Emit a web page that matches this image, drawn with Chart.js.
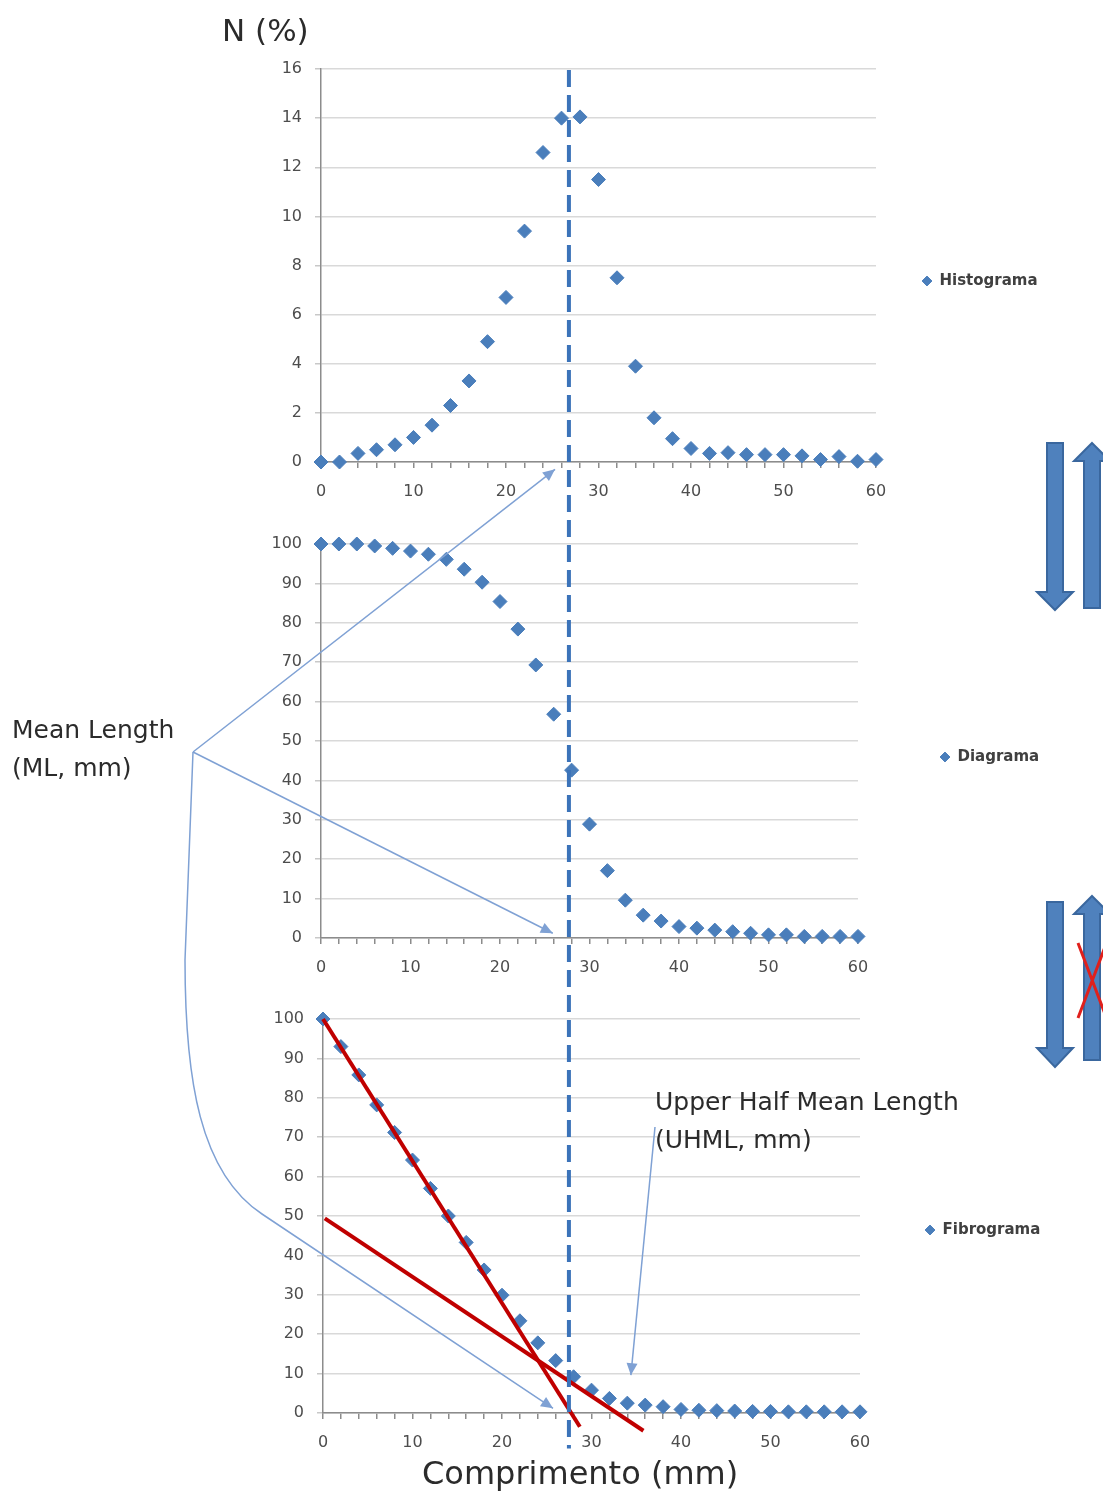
<!DOCTYPE html>
<html lang="pt">
<head>
<meta charset="UTF-8">
<title>Histograma, Diagrama e Fibrograma</title>
<script src="https://cdn.jsdelivr.net/npm/chart.js"></script>
<style>
  body {
    margin: 0;
    background: #fff;
    width: 1103px;
    height: 1491px;
    position: relative;
    overflow: hidden;
    font-family: 'DejaVu Sans', sans-serif;
  }
  canvas.chart { position: absolute; z-index: 1; }
  #overlay { position: absolute; left: 0; top: 0; z-index: 2; pointer-events: none; }
  .label {
    position: absolute;
    z-index: 3;
    white-space: nowrap;
    color: #2b2b2b;
  }
</style>
</head>
<body>

<div class="label" style="left:222px; top:10px; font-size:31px; line-height:40px;">N (%)</div>
<div class="label" style="left:422px; top:1453px; font-size:32px; line-height:40px;">Comprimento (mm)</div>
<div class="label" style="left:12px; top:711px; font-size:25px; line-height:38px;">Mean Length<br>(ML, mm)</div>
<div class="label" style="left:655px; top:1083px; font-size:25px; line-height:38px;">Upper Half Mean Length<br>(UHML, mm)</div>

<canvas id="overlay" width="1103" height="1491"></canvas>

<script>
  // fibre length classes (mm)
  const lengths = [0, 2, 4, 6, 8, 10, 12, 14, 16, 18, 20, 22, 24, 26, 28, 30,
                   32, 34, 36, 38, 40, 42, 44, 46, 48, 50, 52, 54, 56, 58, 60];

  // N (%) for each class
  const histograma = [0, 0, 0.35, 0.5, 0.7, 1.0, 1.5, 2.3, 3.3, 4.9, 6.7, 9.4, 12.6, 14.0, 14.05, 11.5,
                      7.5, 3.9, 1.8, 0.95, 0.55, 0.35, 0.38, 0.3, 0.3, 0.3, 0.25, 0.1, 0.22, 0.03, 0.1];
  const diagrama = [100, 100, 100, 99.5, 98.9, 98.2, 97.4, 96.1, 93.6, 90.3, 85.4, 78.4, 69.3, 56.8, 42.6, 28.9,
                    17.1, 9.6, 5.8, 4.3, 2.9, 2.5, 2.0, 1.6, 1.2, 0.8, 0.8, 0.4, 0.4, 0.4, 0.4];
  const fibrograma = [100, 93, 85.8, 78.2, 71.2, 64.2, 57, 50, 43.3, 36.3, 29.9, 23.4, 17.8, 13.3, 9.2, 5.8,
                      3.7, 2.5, 2.0, 1.6, 0.9, 0.7, 0.6, 0.5, 0.4, 0.4, 0.3, 0.3, 0.3, 0.3, 0.3];

  // red tangent lines on the fibrogram
  const tangentX = [0, 28.7];
  const tangentY = [100, -3.5];
  const halfX = [0.2, 35.8];
  const halfY = [49.4, -4.5];

  const xLabels = [0, 10, 20, 30, 40, 50, 60];

  // annotation anchors, in data units of the panel they point at
  const meanLength = 27.7;          // dashed line, diagram scale
  const mlTipHist = [25.3, -0.3];
  const mlTipDiag = [25.9, 1.2];
  const mlTipFib = [25.7, 1.2];
  const uhmlTip = [34.4, 9.6];

  const blue = '#4a7ebb';
  const tickFont = { family: 'DejaVu Sans', size: 16 };
  const legendFont = { family: 'DejaVu Sans', size: 15, weight: 'bold' };
  const BOX_W = 10, BOX_H = 7;
  const PAD_TOP = 24, Y_AXIS_W = 50, X_AXIS_H = 42;

  // plot box on the page (left, right, top, bottom) and legend centre line
  const panels = [
    { name: 'Histograma', values: histograma, yMax: 16, yStep: 2,
      left: 321, right: 876, top: 69, bottom: 462, legendY: 281, legendPad: 46 },
    { name: 'Diagrama', values: diagrama, yMax: 100, yStep: 10,
      left: 321, right: 858, top: 544, bottom: 938, legendY: 757, legendPad: 82 },
    { name: 'Fibrograma', values: fibrograma, yMax: 100, yStep: 10,
      left: 323, right: 860, top: 1019, bottom: 1413, legendY: 1230, legendPad: 65, tangents: true }
  ];

  function legendWidth(text, pad) {
    const m = document.createElement('canvas').getContext('2d');
    m.font = `${legendFont.weight} ${legendFont.size}px ${legendFont.family}`;
    return pad + BOX_W + legendFont.size / 2 + m.measureText(text).width + 10;
  }

  function makePanel(p) {
    const lw = legendWidth(p.name, p.legendPad);
    const inner = p.right - p.left + Y_AXIS_W + lw;
    const w = Math.ceil(inner);
    p.canvasLeft = p.left - Y_AXIS_W;
    p.canvasTop = p.top - PAD_TOP;
    // empty legend title used as a spacer: legend item sits at legendY
    const spacer = 2 * (p.legendY - (p.top + p.bottom) / 2);

    const canvas = document.createElement('canvas');
    canvas.className = 'chart';
    canvas.width = w;
    canvas.height = PAD_TOP + (p.bottom - p.top) + X_AXIS_H;
    canvas.style.left = p.canvasLeft + 'px';
    canvas.style.top = p.canvasTop + 'px';
    document.body.appendChild(canvas);

    const datasets = [{
      label: p.name,
      data: lengths.map((x, i) => ({ x: x, y: p.values[i] })),
      pointStyle: 'rectRot',
      pointRadius: 7,
      backgroundColor: blue,
      borderColor: blue,
      pointBorderWidth: 1,
      showLine: false,
      clip: false,
      order: 1
    }];

    if (p.tangents) {
      [[tangentX, tangentY], [halfX, halfY]].forEach(([xs, ys]) => {
        datasets.push({
          label: 'tangent',
          data: xs.map((x, i) => ({ x: x, y: ys[i] })),
          showLine: true,
          pointRadius: 0,
          borderColor: '#c00000',
          borderWidth: 4,
          clip: false,
          order: 0
        });
      });
    }

    p.chart = new Chart(canvas, {
      type: 'scatter',
      data: { datasets: datasets },
      options: {
        responsive: false,
        animation: false,
        events: [],
        layout: { padding: { top: PAD_TOP, right: w - inner, bottom: 0, left: 0 } },
        plugins: {
          tooltip: { enabled: false },
          legend: {
            position: 'right',
            fullSize: false,
            title: { display: true, text: '', font: { size: 10 }, padding: { top: spacer - 12, bottom: 0 } },
            labels: {
              usePointStyle: true,
              pointStyle: 'rectRot',
              boxWidth: BOX_W,
              boxHeight: BOX_H,
              padding: p.legendPad,
              color: '#404040',
              font: legendFont,
              filter: item => item.datasetIndex === 0
            }
          }
        },
        scales: {
          x: {
            type: 'linear',
            min: 0,
            max: 60,
            ticks: {
              stepSize: 2,
              autoSkip: false,
              maxRotation: 0,
              padding: 14,
              color: '#4d4d4d',
              font: tickFont,
              callback: v => xLabels.includes(v) ? v : ''
            },
            grid: { drawOnChartArea: false, drawTicks: true, tickLength: 6, color: '#8c8c8c', lineWidth: 1.5 },
            border: { color: '#8c8c8c', width: 1.5 },
            afterFit: s => { s.height = X_AXIS_H; }
          },
          y: {
            min: 0,
            max: p.yMax,
            ticks: { stepSize: p.yStep, padding: 13, color: '#4d4d4d', font: tickFont },
            grid: { color: '#d9d9d9', lineWidth: 1.5, tickLength: 6, tickColor: '#c8c8c8' },
            border: { color: '#8c8c8c', width: 1.5 },
            afterFit: s => { s.width = Y_AXIS_W; }
          }
        }
      }
    });
  }

  panels.forEach(makePanel);

  // ---------- overlay: dashed ML line, callouts, block arrows ----------
  const ov = document.getElementById('overlay').getContext('2d');

  function toPage(p, x, y) {
    return [p.canvasLeft + p.chart.scales.x.getPixelForValue(x),
            p.canvasTop + p.chart.scales.y.getPixelForValue(y)];
  }

  function arrowHead(fx, fy, tx, ty) {
    const a = Math.atan2(ty - fy, tx - fx), L = 12, W = 5.5;
    ov.beginPath();
    ov.moveTo(tx, ty);
    ov.lineTo(tx - L * Math.cos(a) + W * Math.sin(a), ty - L * Math.sin(a) - W * Math.cos(a));
    ov.lineTo(tx - L * Math.cos(a) - W * Math.sin(a), ty - L * Math.sin(a) + W * Math.cos(a));
    ov.closePath();
    ov.fill();
  }

  const [p1, p2, p3] = panels;

  // mean length dashed line running through all three panels
  const mlX = toPage(p2, meanLength, 0)[0];
  ov.save();
  ov.strokeStyle = '#3b73b9';
  ov.lineWidth = 4;
  ov.setLineDash([17, 8]);
  ov.beginPath();
  ov.moveTo(mlX, toPage(p1, 0, p1.yMax)[1] + 1);
  ov.lineTo(mlX, toPage(p3, 0, -9)[1]);
  ov.stroke();
  ov.restore();

  // thin callout lines
  ov.strokeStyle = '#7fa1d4';
  ov.fillStyle = '#7fa1d4';
  ov.lineWidth = 1.5;
  const vertex = [193, 752];

  const t1 = toPage(p1, mlTipHist[0], mlTipHist[1]);
  ov.beginPath(); ov.moveTo(vertex[0], vertex[1]); ov.lineTo(t1[0], t1[1]); ov.stroke();
  arrowHead(vertex[0], vertex[1], t1[0], t1[1]);

  const t2 = toPage(p2, mlTipDiag[0], mlTipDiag[1]);
  ov.beginPath(); ov.moveTo(vertex[0], vertex[1]); ov.lineTo(t2[0], t2[1]); ov.stroke();
  arrowHead(vertex[0], vertex[1], t2[0], t2[1]);

  const t3 = toPage(p3, mlTipFib[0], mlTipFib[1]);
  ov.beginPath();
  ov.moveTo(vertex[0], vertex[1]);
  ov.lineTo(185, 960);
  ov.bezierCurveTo(185, 1080, 200, 1173, 262, 1214);
  ov.lineTo(t3[0], t3[1]);
  ov.stroke();
  arrowHead(262, 1214, t3[0], t3[1]);

  const t4 = toPage(p3, uhmlTip[0], uhmlTip[1]);
  const uStart = [655, 1127];
  ov.beginPath(); ov.moveTo(uStart[0], uStart[1]); ov.lineTo(t4[0], t4[1]); ov.stroke();
  arrowHead(uStart[0], uStart[1], t4[0], t4[1]);

  // block arrows on the right edge
  function blockArrow(cx, tipY, endY, shaftW, headW, headL) {
    const dir = Math.sign(endY - tipY);
    const base = tipY + dir * headL;
    ov.beginPath();
    ov.moveTo(cx, tipY);
    ov.lineTo(cx + headW / 2, base);
    ov.lineTo(cx + shaftW / 2, base);
    ov.lineTo(cx + shaftW / 2, endY);
    ov.lineTo(cx - shaftW / 2, endY);
    ov.lineTo(cx - shaftW / 2, base);
    ov.lineTo(cx - headW / 2, base);
    ov.closePath();
    ov.fillStyle = '#4f81bd';
    ov.fill();
    ov.strokeStyle = '#3a679e';
    ov.lineWidth = 2;
    ov.stroke();
  }

  blockArrow(1055, 610, 443, 16, 36, 18);
  blockArrow(1092, 443, 608, 16, 36, 18);
  blockArrow(1055, 1067, 902, 16, 36, 19);
  blockArrow(1092, 896, 1060, 16, 36, 18);

  ov.strokeStyle = '#e0201c';
  ov.lineWidth = 3;
  ov.beginPath();
  ov.moveTo(1078, 943); ov.lineTo(1108, 1022);
  ov.moveTo(1078, 1018); ov.lineTo(1108, 939);
  ov.stroke();
</script>
</body>
</html>
